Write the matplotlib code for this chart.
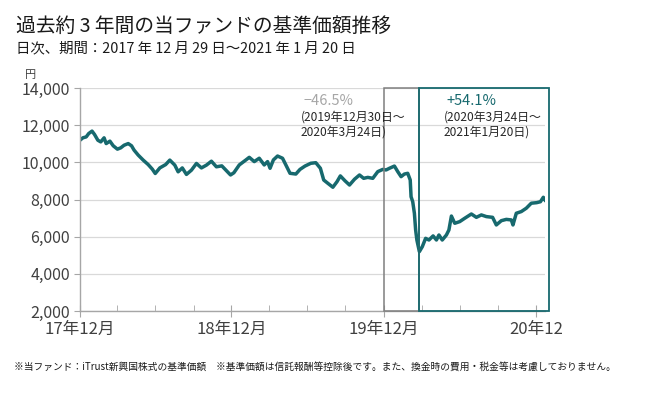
import matplotlib
matplotlib.use("Agg")
import matplotlib.pyplot as plt
import matplotlib.dates as mdates
import pandas as pd

plt.rcParams['font.family'] = ['Noto Sans CJK JP', 'DejaVu Sans']

# (date, NAV in yen)
dates = ['2017-12-29', '2018-01-05', '2018-01-13', '2018-01-19', '2018-01-27', '2018-02-02',
         '2018-02-10', '2018-02-17', '2018-02-25', '2018-03-02', '2018-03-11', '2018-03-19',
         '2018-03-29', '2018-04-06', '2018-04-14', '2018-04-24', '2018-05-02', '2018-05-08',
         '2018-05-18', '2018-05-30', '2018-06-11', '2018-06-21', '2018-06-28', '2018-07-09',
         '2018-07-23', '2018-08-02', '2018-08-14', '2018-08-22', '2018-09-01', '2018-09-11',
         '2018-09-23', '2018-10-05', '2018-10-17', '2018-10-29', '2018-11-10', '2018-11-22',
         '2018-12-05', '2018-12-17', '2018-12-26',
         '2019-01-03', '2019-01-16', '2019-02-01', '2019-02-09', '2019-02-21', '2019-03-05',
         '2019-03-17', '2019-03-25', '2019-03-31', '2019-04-08', '2019-04-18', '2019-04-30',
         '2019-05-08', '2019-05-18', '2019-06-01', '2019-06-11', '2019-06-23', '2019-07-07',
         '2019-07-19', '2019-07-30', '2019-08-07', '2019-08-17', '2019-08-29', '2019-09-08',
         '2019-09-16', '2019-09-27', '2019-10-08', '2019-10-20', '2019-11-01', '2019-11-11',
         '2019-11-21', '2019-12-03', '2019-12-15', '2019-12-27',
         '2020-01-04', '2020-01-12', '2020-01-24', '2020-02-01', '2020-02-09', '2020-02-17',
         '2020-02-25', '2020-03-02', '2020-03-04', '2020-03-08', '2020-03-12', '2020-03-15',
         '2020-03-18', '2020-03-24', '2020-03-31', '2020-04-08', '2020-04-16', '2020-04-26',
         '2020-05-04', '2020-05-10', '2020-05-18', '2020-05-28', '2020-06-03', '2020-06-09',
         '2020-06-17', '2020-06-29', '2020-07-11', '2020-07-27', '2020-08-08', '2020-08-20',
         '2020-09-01', '2020-09-16', '2020-09-25', '2020-10-07', '2020-10-19', '2020-10-31',
         '2020-11-04', '2020-11-12', '2020-11-24', '2020-12-06', '2020-12-18', '2020-12-31',
         '2021-01-09', '2021-01-16', '2021-01-20']
nav = [11190, 11320, 11370, 11550, 11680, 11500,
       11190, 11100, 11320, 11010, 11140, 10890,
       10710, 10780, 10920, 11010, 10890, 10660,
       10390, 10120, 9880, 9630, 9400, 9700,
       9880, 10120, 9850, 9490, 9700, 9350,
       9580, 9940, 9700, 9850, 10060, 9760,
       9810, 9530, 9320,
       9440, 9860, 10130, 10270, 10040, 10220,
       9860, 10040, 9680, 10130, 10340, 10220,
       9860, 9410, 9370, 9620, 9800, 9950,
       9980, 9680, 9050, 8870, 8660, 8960,
       9270, 9010, 8780, 9090, 9320, 9140,
       9190, 9140, 9500, 9620,
       9590, 9680, 9800, 9500, 9230, 9370,
       9410, 9050, 8150, 7880, 7260, 6360,
       5820, 5195, 5460, 5910, 5820, 6040,
       5820, 6090, 5820, 6090, 6360, 7110,
       6720, 6810, 6990, 7220, 7040, 7170,
       7080, 7040, 6630, 6860, 6930, 6900,
       6630, 7260, 7350, 7530, 7800, 7830,
       7880, 8120, 7970]

major_ticks = ['2017-12-29', '2018-12-28', '2019-12-30', '2020-12-30']
major_labels = ['17年12月', '18年12月', '19年12月', '20年12']
minor_ticks = ['2018-03-29', '2018-06-28', '2018-09-28', '2019-03-29', '2019-06-28',
               '2019-09-28', '2020-03-30', '2020-06-29', '2020-09-29']
y_ticks = [2000, 4000, 6000, 8000, 10000, 12000, 14000]

drop_start, drop_end = '2019-12-30', '2020-03-24'
rise_start, rise_end = '2020-03-24', '2021-01-20'

teal = '#17696e'

x = pd.to_datetime(dates)

fig = plt.figure(figsize=(6.72, 3.99), dpi=100)
ax = fig.add_axes([0.119, 0.2206, 0.692, 0.5588])

ax.plot(x, nav, color=teal, lw=2.5, solid_joinstyle='round')

ax.set_ylim(2000, 14000)
ax.set_xlim(pd.Timestamp('2017-12-29'), pd.Timestamp('2021-01-20'))
ax.set_yticks(y_ticks)
ax.set_yticklabels([f'{v:,}' for v in y_ticks])
ax.set_xticks(pd.to_datetime(major_ticks))
ax.set_xticklabels(major_labels)
ax.set_xticks(pd.to_datetime(minor_ticks), minor=True)

ax.grid(axis='y', color='#d9d9d9', lw=0.9)
ax.set_axisbelow(True)
for s in ['top', 'right']:
    ax.spines[s].set_visible(False)
for s in ['left', 'bottom']:
    ax.spines[s].set_color('#a6a6a6')
    ax.spines[s].set_linewidth(1.0)
ax.tick_params(axis='y', length=4, color='#a6a6a6', labelsize=11.5, labelcolor='#404040', pad=3)
ax.tick_params(axis='x', which='major', direction='inout', length=8, color='#a6a6a6',
               labelsize=12, labelcolor='#404040', pad=3)
ax.tick_params(axis='x', which='minor', direction='in', length=4, color='#a6a6a6')

# period boxes
d0, d1 = mdates.date2num(pd.Timestamp(drop_start)), mdates.date2num(pd.Timestamp(drop_end))
r0, r1 = mdates.date2num(pd.Timestamp(rise_start)), mdates.date2num(pd.Timestamp(rise_end))
ax.add_patch(plt.Rectangle((d0, 2000), d1 - d0, 12000, fill=False, ec='#7f7f7f', lw=1.1,
                           clip_on=False, zorder=3))
ax.add_patch(plt.Rectangle((r0, 2000), r1 - r0 + 10, 12000, fill=False, ec=teal, lw=1.3,
                           clip_on=False, zorder=3))

ax.text(pd.Timestamp('2019-06-20'), 13280, '−46.5%', color='#a6a6a6', fontsize=10.5,
        va='center', ha='left')
ax.text(pd.Timestamp('2019-06-12'), 12030, '(2019年12月30日～\n2020年3月24日)', color='#262626',
        fontsize=8.6, va='center', ha='left', linespacing=1.2)
ax.text(pd.Timestamp('2020-05-28'), 13280, '+54.1%', color=teal, fontsize=10.5,
        va='center', ha='left')
ax.text(pd.Timestamp('2020-05-22'), 12030, '(2020年3月24日～\n2021年1月20日)', color='#262626',
        fontsize=8.6, va='center', ha='left', linespacing=1.2)

fig.text(0.024, 0.935, '過去約 3 年間の当ファンドの基準価額推移', fontsize=14.2, color='#1a1a1a',
         va='center', ha='left')
fig.text(0.024, 0.878, '日次、期間：2017 年 12 月 29 日～2021 年 1 月 20 日', fontsize=10.4,
         color='#1a1a1a', va='center', ha='left')
fig.text(0.045, 0.812, '円', fontsize=8, color='#404040', va='center', ha='center')
fig.text(0.021, 0.082, '※当ファンド：iTrust新興国株式の基準価額　※基準価額は信託報酬等控除後です。また、換金時の費用・税金等は考慮しておりません。',
         fontsize=7.0, color='#1a1a1a', va='center', ha='left')

fig.savefig('out.png', dpi=100)
